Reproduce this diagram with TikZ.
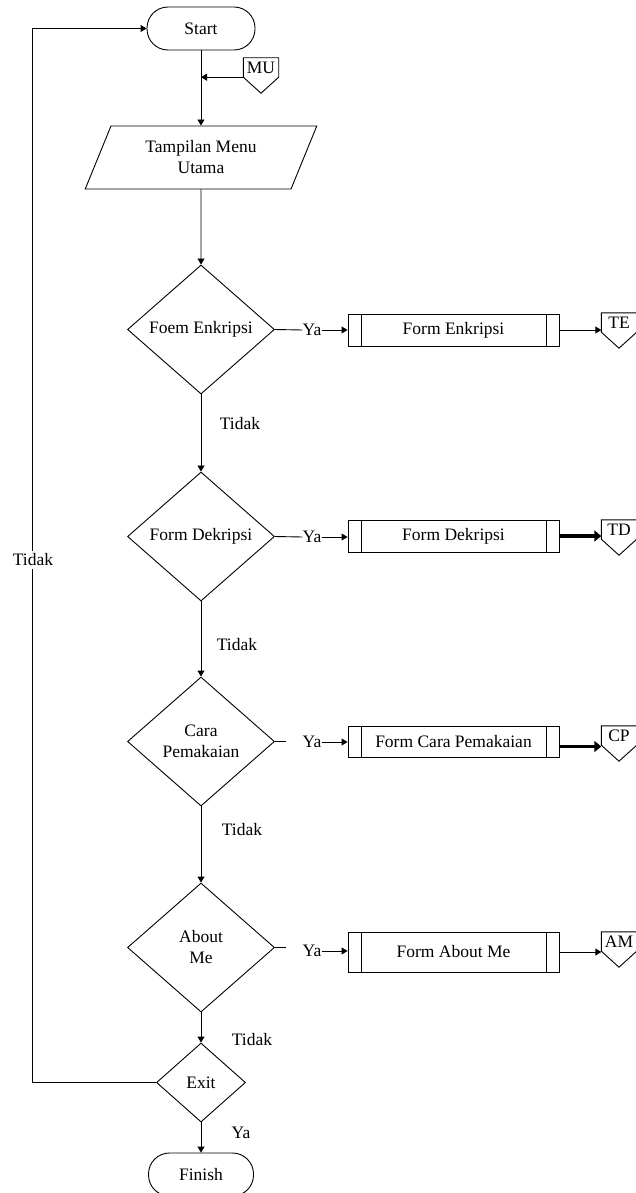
\documentclass[tikz,border=0pt]{standalone}
\usepackage{fontspec}
\setmainfont{Liberation Serif}
\usetikzlibrary{shapes.geometric,arrows.meta,calc}

\tikzset{
  txt/.style={font=\fontsize{17.5}{21}\selectfont},
  base/.style={txt, draw, line width=0.9pt, align=center, inner sep=0pt},
  term/.style={base, rectangle, rounded corners=21pt, minimum width=108pt, minimum height=43pt},
  io/.style={base, trapezium, trapezium left angle=64.5, trapezium right angle=115.5,
    trapezium stretches=true, minimum width=232pt, minimum height=63pt},
  decision/.style={base, diamond, minimum width=147pt, minimum height=129pt},
  proc/.style={base, rectangle, minimum width=211pt, minimum height=32pt,
    path picture={\draw[line width=0.9pt]
      ([xshift=13pt]path picture bounding box.north west) -- ([xshift=13pt]path picture bounding box.south west)
      ([xshift=-13pt]path picture bounding box.north east) -- ([xshift=-13pt]path picture bounding box.south east);}},
  offtext/.style={txt, minimum width=35pt, minimum height=19pt, inner sep=0pt},
  lbl/.style={txt, inner sep=0pt},
  link/.style={line width=0.9pt},
  flow/.style={line width=0.9pt, -{Triangle[length=6pt,width=7pt]}},
  heavy/.style={line width=3.5pt, -{Triangle[length=7pt,width=11pt]}}
}

% off-page connector: text box with a pointed bottom
\newcommand{\offpage}[3]{%
  \node[offtext] (#1) at (#2) {#3};
  \draw[link] (#1.north west) -- (#1.north east) -- (#1.south east)
    -- ($(#1.south)+(0,16)$) -- (#1.south west) -- cycle;}

\begin{document}
\begin{tikzpicture}[x=1pt,y=-1pt]
  \useasboundingbox (0,0) rectangle (636,1193);

  % main column
  \node[term] (start) at (201,28.5) {Start};
  \node[io] (menu) at (201,157.5) {Tampilan Menu\\Utama};
  \node[decision] (d1) at (201,329.5) {Foem Enkripsi};
  \node[decision] (d2) at (201,536.5) {Form Dekripsi};
  \node[decision] (d3) at (201,741.5) {Cara\\Pemakaian};
  \node[decision] (d4) at (201,947.5) {About\\Me};
  \node[decision, minimum width=89pt, minimum height=79pt] (exit) at (201,1082.5) {Exit};
  \node[term, minimum width=105pt] (finish) at (201,1174.5) {Finish};

  % forms
  \node[proc] (p1) at (453.5,330) {Form Enkripsi};
  \node[proc] (p2) at (453.5,536) {Form Dekripsi};
  \node[proc, minimum height=31pt] (p3) at (453.5,741.5) {Form Cara Pemakaian};
  \node[proc, minimum height=40pt] (p4) at (453.5,952) {Form About Me};

  % off-page connectors
  \offpage{mu}{261,67.5}{MU}
  \offpage{te}{619,322.5}{TE}
  \offpage{td}{619,529.5}{TD}
  \offpage{cp}{619,735.5}{CP}
  \offpage{am}{619,941.5}{AM}

  % branch labels
  \node[lbl] (y1) at (312,330) {Ya};
  \node[lbl] (y2) at (312,537) {Ya};
  \node[lbl] (y3) at (312,742) {Ya};
  \node[lbl] (y4) at (312,951) {Ya};
  \node[lbl] (t1) at (240,424) {Tidak};
  \node[lbl] (t2) at (237,645) {Tidak};
  \node[lbl] (t3) at (242,830) {Tidak};
  \node[lbl] (t4) at (252,1040) {Tidak};
  \node[lbl] (y5) at (241,1133) {Ya};

  % main flow
  \draw[flow] (start) -- (menu);
  \draw[flow] (mu.south west) -- (mu.south west -| start.south);
  \draw[flow] (menu) -- (d1);
  \draw[flow] (d1) -- (d2);
  \draw[flow] (d2) -- (d3);
  \draw[flow] (d3) -- (d4);
  \draw[flow] (d4) -- (exit);
  \draw[flow] (exit) -- (finish);

  % "Ya" branches
  \draw[link] (d1.east) -- (y1.west);
  \draw[link] (d2.east) -- (y2.west);
  \draw[link] (d3.east) -- ++(11,0);
  \draw[link] (d4.east) -- ++(11,0);
  \draw[flow] (y1.east) -- (y1.east -| p1.west);
  \draw[flow] (y2.east) -- (y2.east -| p2.west);
  \draw[flow] (y3.east) -- (y3.east -| p3.west);
  \draw[flow] (y4.east) -- (y4.east -| p4.west);

  % forms to connectors
  \draw[flow] (p1.east) -- (p1.east -| te.west);
  \draw[heavy] (p2.east) -- (p2.east -| td.west);
  \coordinate (p3out) at ([yshift=-5pt]p3.east);
  \draw[heavy] (p3out) -- (p3out -| cp.west);
  \draw[flow] (p4.east) -- (p4.east -| am.west);

  % loop back to start
  \coordinate (loop) at (32,1082.5);
  \draw[flow] (exit.west) -- (loop) |- (start.west);
  \node[lbl, fill=white, inner xsep=0pt, inner ysep=3pt] (tback) at (33,560) {Tidak};
\end{tikzpicture}
\end{document}
